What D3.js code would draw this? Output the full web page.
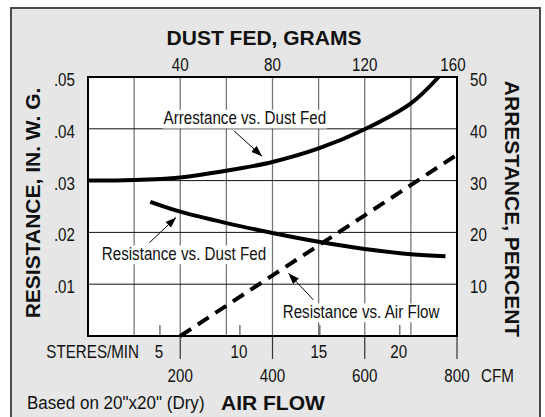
<!DOCTYPE html>
<html><head><meta charset="utf-8">
<script src="https://cdn.jsdelivr.net/npm/d3@7"></script>
<style>
html,body{margin:0;padding:0;background:#fff;}
svg{display:block;}
.n{font-family:"Liberation Sans",Arial,Helvetica,sans-serif;font-size:18.5px;fill:#111;}
.b{font-family:"Liberation Sans",Arial,Helvetica,sans-serif;font-weight:bold;font-size:21px;fill:#111;}
</style></head><body>
<svg id="chart" width="545" height="417"></svg>
<script>
// Axis ticks
const dustFedTicks = [40, 80, 120, 160];
const cfmTicks = [200, 400, 600, 800];
const stereTicks = [5, 10, 15, 20];
const resistanceTicks = [0.01, 0.02, 0.03, 0.04, 0.05];
const resistanceLabels = [".01", ".02", ".03", ".04", ".05"];
const arrestanceTicks = [10, 20, 30, 40, 50];

// Arrestance (%) against dust fed (grams)
const arrestanceGrams = [0, 20, 40, 60, 80, 100, 120, 140, 152];
const arrestancePct = [30.0, 30.1, 30.6, 31.9, 33.6, 36.2, 39.9, 44.9, 50];

// Resistance (in. w.g.) against dust fed (grams)
const resDustGrams = [27, 40, 60, 80, 100, 120, 140, 155];
const resDustValues = [0.0259, 0.0240, 0.0218, 0.0199, 0.0182, 0.0168, 0.0158, 0.0154];

// Resistance (in. w.g.) against air flow (CFM)
const airFlowCfm = [200, 400, 600, 800];
const airFlowResistance = [0, 0.0117, 0.0233, 0.035];

// Callouts: label position and arrow, in grams / resistance units
const calloutText = ["Arrestance vs. Dust Fed", "Resistance vs. Dust Fed", "Resistance vs. Air Flow"];
const calloutAt = [[68, 0.0409], [41.6, 0.0147], [118.4, 0.0035]];
const calloutFrom = [[63.3, 0.0396], [26.6, 0.0180], [97.7, 0.0070]];
const calloutTo = [[75.5, 0.0347], [38.2, 0.0229], [86.9, 0.0121]];

const svg = d3.select("#chart");
const W = 545, H = 417;
const plot = {left: 88, top: 77, right: 457, bottom: 336};
const NARROW = 0.82;   // horizontal squeeze for the condensed label face

const xGrams = d3.scaleLinear().domain([0, 160]).range([plot.left, plot.right]);
const xCfm = d3.scaleLinear().domain([0, 800]).range([plot.left, plot.right]);
const xStere = d3.scaleLinear().domain([5, 20]).range([xCfm(156), xCfm(676)]);
const yRes = d3.scaleLinear().domain([0, 0.05]).range([plot.bottom, plot.top]);
const yPct = d3.scaleLinear().domain([0, 50]).range([plot.bottom, plot.top]);

// condensed text helper
function narrow(parent, x, y, str, anchor, sx) {
  return parent.append("text").attr("class", "n").attr("text-anchor", anchor || "start")
    .attr("transform", `translate(${x},${y}) scale(${sx || NARROW},1)`).text(str);
}

// Panel
svg.append("rect").attr("x", 0).attr("y", 0).attr("width", W).attr("height", H).attr("fill", "#fff");
svg.append("rect").attr("x", 11).attr("y", 8).attr("width", 529).attr("height", 430)
  .attr("fill", "#e6e6e6").attr("stroke", "#4a4a4a").attr("stroke-width", 2);

svg.append("rect").attr("x", plot.left).attr("y", plot.top)
  .attr("width", plot.right - plot.left).attr("height", plot.bottom - plot.top).attr("fill", "#fff");

// Vertical grid every 20 g (= 100 CFM)
const g = svg.append("g");
g.selectAll("line.v").data(d3.range(20, 160, 20)).join("line")
  .attr("x1", d => xGrams(d)).attr("x2", d => xGrams(d))
  .attr("y1", plot.top).attr("y2", plot.bottom)
  .attr("stroke", "#777").attr("stroke-width", 1.3);
// CFM ticks extending below the plot
g.selectAll("line.c").data(cfmTicks).join("line")
  .attr("x1", d => xCfm(d)).attr("x2", d => xCfm(d))
  .attr("y1", plot.bottom).attr("y2", plot.bottom + 23)
  .attr("stroke", "#333").attr("stroke-width", 1.2);
// Horizontal grid
g.selectAll("line.h").data(resistanceTicks.slice(0, 4)).join("line")
  .attr("x1", plot.left).attr("x2", plot.right)
  .attr("y1", d => yRes(d)).attr("y2", d => yRes(d))
  .attr("stroke", "#111").attr("stroke-width", 1);
// Metric air-flow ticks inside the bottom edge
g.selectAll("line.s").data(stereTicks).join("line")
  .attr("x1", d => xStere(d)).attr("x2", d => xStere(d))
  .attr("y1", plot.bottom).attr("y2", plot.bottom - 11)
  .attr("stroke", "#555").attr("stroke-width", 1.2);

// Curves
const lineArr = d3.line().x(d => xGrams(d[0])).y(d => yPct(d[1])).curve(d3.curveCatmullRom);
svg.append("path").datum(d3.zip(arrestanceGrams, arrestancePct))
  .attr("d", lineArr).attr("fill", "none").attr("stroke", "#000").attr("stroke-width", 4);

const lineResDust = d3.line().x(d => xGrams(d[0])).y(d => yRes(d[1])).curve(d3.curveCatmullRom);
svg.append("path").datum(d3.zip(resDustGrams, resDustValues))
  .attr("d", lineResDust).attr("fill", "none").attr("stroke", "#000").attr("stroke-width", 4);

const lineAir = d3.line().x(d => xCfm(d[0])).y(d => yRes(d[1]));
svg.append("path").datum(d3.zip(airFlowCfm, airFlowResistance))
  .attr("d", lineAir).attr("fill", "none").attr("stroke", "#000").attr("stroke-width", 4)
  .attr("stroke-dasharray", "13,8");

// Callouts
svg.append("defs").append("marker").attr("id", "arrow")
  .attr("markerUnits", "userSpaceOnUse").attr("markerWidth", 12).attr("markerHeight", 8)
  .attr("refX", 11).attr("refY", 4).attr("orient", "auto")
  .append("path").attr("d", "M0,0 L11,4 L0,8 Z").attr("fill", "#000");

calloutText.forEach((t, i) => {
  const grp = svg.append("g")
    .attr("transform", `translate(${xGrams(calloutAt[i][0])},${yRes(calloutAt[i][1])}) scale(${NARROW},1)`);
  const txt = grp.append("text").attr("class", "n").attr("text-anchor", "middle").text(t);
  const bb = txt.node().getBBox();
  grp.insert("rect", "text").attr("x", bb.x - 1).attr("y", bb.y + 2)
    .attr("width", bb.width + 2).attr("height", bb.height - 2).attr("fill", "#fff");
  svg.append("line")
    .attr("x1", xGrams(calloutFrom[i][0])).attr("y1", yRes(calloutFrom[i][1]))
    .attr("x2", xGrams(calloutTo[i][0])).attr("y2", yRes(calloutTo[i][1]))
    .attr("stroke", "#000").attr("stroke-width", 1).attr("marker-end", "url(#arrow)");
});

// Plot frame
svg.append("rect").attr("x", plot.left).attr("y", plot.top)
  .attr("width", plot.right - plot.left).attr("height", plot.bottom - plot.top)
  .attr("fill", "none").attr("stroke", "#000").attr("stroke-width", 2);

// Tick labels
dustFedTicks.forEach(d => narrow(svg, xGrams(d) - (d === 160 ? 4 : 0), plot.top - 6, d, "middle"));
resistanceTicks.forEach((d, i) => narrow(svg, 75, yRes(d) + 9, resistanceLabels[i], "end"));
arrestanceTicks.forEach(d => narrow(svg, 470, yPct(d) + 9, d, "start"));
stereTicks.forEach(d => narrow(svg, xStere(d) - 1, 358, d, "middle"));
cfmTicks.forEach(d => narrow(svg, xCfm(d), 382, d, "middle"));

narrow(svg, 139, 358, "STERES/MIN", "end");
narrow(svg, 481, 382, "CFM", "start");
narrow(svg, 27, 409, "Based on 20\"x20\" (Dry)", "start", 0.92);

// Axis titles
svg.append("text").attr("class", "b").attr("text-anchor", "middle").attr("x", 264).attr("y", 45).text("DUST FED, GRAMS");
svg.append("text").attr("class", "b").attr("x", 221).attr("y", 410).text("AIR FLOW");
svg.append("text").attr("class", "b").attr("text-anchor", "middle")
  .attr("transform", "translate(40,203) rotate(-90)").text("RESISTANCE, IN. W. G.");
svg.append("text").attr("class", "b").attr("text-anchor", "middle")
  .attr("transform", "translate(505,209) rotate(90)").text("ARRESTANCE, PERCENT");
</script>
</body></html>
